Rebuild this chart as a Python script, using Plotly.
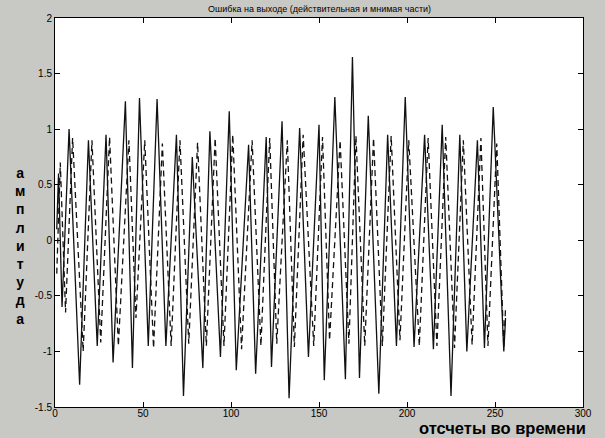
import plotly.graph_objects as go

solid_t = [1, 2, 4, 8, 14, 19, 24, 29, 33, 40, 44, 48, 53, 58, 63, 69, 73, 78, 84, 88,
           94, 99, 103, 110, 114, 120, 123, 129, 133, 139, 144, 150, 153, 159, 165, 169,
           173, 178, 184, 189, 194, 199, 204, 210, 215, 220, 225, 230, 234, 240, 244, 249, 255, 256]
solid_v = [0.1, 0.6, -0.6, 1.0, -1.3, 0.9, -0.95, 0.95, -1.1, 1.25, -1.15, 1.28, -0.95, 1.27,
           -0.95, 0.95, -1.4, 0.75, -1.15, 0.98, -1.05, 1.16, -1.17, 0.86, -1.2, 0.93, -1.14,
           1.07, -1.42, 1.01, -1.05, 1.04, -1.26, 1.29, -1.25, 1.65, -1.24, 1.12, -1.38, 0.95,
           -0.95, 1.29, -0.96, 0.95, -0.98, 1.04, -1.4, 0.95, -1.0, 0.9, -0.97, 1.2, -1.0, -0.7]

# Imaginary part (dashed)
dashed_t = [1, 3, 6, 10, 16, 21, 26, 31, 36, 42, 46, 51, 56, 61, 66, 71, 76, 81, 86, 91,
            96, 101, 106, 112, 117, 122, 126, 132, 136, 141, 147, 152, 156, 162, 167, 171,
            176, 181, 186, 191, 196, 201, 207, 212, 217, 222, 227, 232, 237, 242, 246, 251, 255, 256]
dashed_v = [-0.3, 0.7, -0.65, 0.92, -1.0, 0.9, -0.92, 0.93, -0.95, 0.9, -0.7, 0.9, -0.97, 0.87,
            -0.95, 0.9, -0.93, 0.88, -0.95, 0.92, -0.95, 0.95, -0.98, 0.9, -0.95, 0.92, -0.93,
            0.9, -0.96, 0.95, -0.95, 0.93, -0.9, 0.9, -0.93, 0.94, -0.95, 0.92, -0.95, 0.94,
            -0.9, 0.9, -0.95, 0.92, -0.95, 0.93, -0.97, 0.9, -0.94, 0.92, -0.95, 0.87, -0.97, -0.6]

x_tickvals = [0, 50, 100, 150, 200, 250, 300]
x_ticktext = ["0", "50", "100", "150", "200", "250", "300"]
y_tickvals = [-1.5, -1, -0.5, 0, 0.5, 1, 1.5, 2]
y_ticktext = ["-1.5", "-1", "-0.5", "0", "0.5", "1", "1.5", "2"]

title_text = "Ошибка на выходе (действительная и мнимая части)"
ylabel_letters = ["а", "м", "п", "л", "и", "т", "у", "д", "а"]
xlabel_text = "отсчеты во времени"

tick_font = dict(family="Liberation Sans Narrow, Liberation Sans, Arial", size=10, color="black")

fig = go.Figure()
fig.add_trace(go.Scatter(x=solid_t, y=solid_v, mode="lines",
                         line=dict(color="#111111", width=1.3), showlegend=False))
fig.add_trace(go.Scatter(x=dashed_t, y=dashed_v, mode="lines",
                         line=dict(color="#111111", width=1.3, dash="6px,4px"), showlegend=False))

fig.update_layout(
    width=605, height=438,
    margin=dict(l=55, r=22, t=18, b=31),
    paper_bgcolor="#c8c8c4",
    plot_bgcolor="white",
    xaxis=dict(range=[0, 300], tickvals=x_tickvals, ticktext=x_ticktext,
               showgrid=False, zeroline=False, showline=True, linecolor="black",
               linewidth=1, mirror="ticks", ticks="inside", ticklen=5,
               tickcolor="black", tickfont=tick_font, automargin=False,
               ticklabelstandoff=-3),
    yaxis=dict(range=[-1.5, 2], tickvals=y_tickvals, ticktext=y_ticktext,
               showgrid=False, zeroline=False, showline=True, linecolor="black",
               linewidth=1, mirror="ticks", ticks="inside", ticklen=5,
               tickcolor="black", tickfont=tick_font, automargin=False),
    annotations=[
        dict(text=title_text, xref="paper", yref="paper", x=0.5, y=1,
             yshift=9, xanchor="center", yanchor="middle", showarrow=False,
             font=dict(family="Liberation Sans Narrow, Liberation Sans, Arial", size=9, color="black")),
        dict(text="<br>".join(ylabel_letters), xref="paper", yref="paper",
             x=0, xshift=-35, y=0.5, yshift=-33, xanchor="center", yanchor="middle",
             showarrow=False, align="center",
             font=dict(family="Liberation Sans, Arial", size=14, color="black", weight="bold")),
        dict(text=xlabel_text, xref="paper", yref="paper", x=1, xshift=5, y=0, yshift=-21,
             xanchor="right", yanchor="middle", showarrow=False,
             font=dict(family="Liberation Sans, Arial", size=16.5, color="black", weight="bold")),
    ],
)

fig.write_html("out.html", config={"displayModeBar": False},
               post_script="document.body.style.margin='0px';")
